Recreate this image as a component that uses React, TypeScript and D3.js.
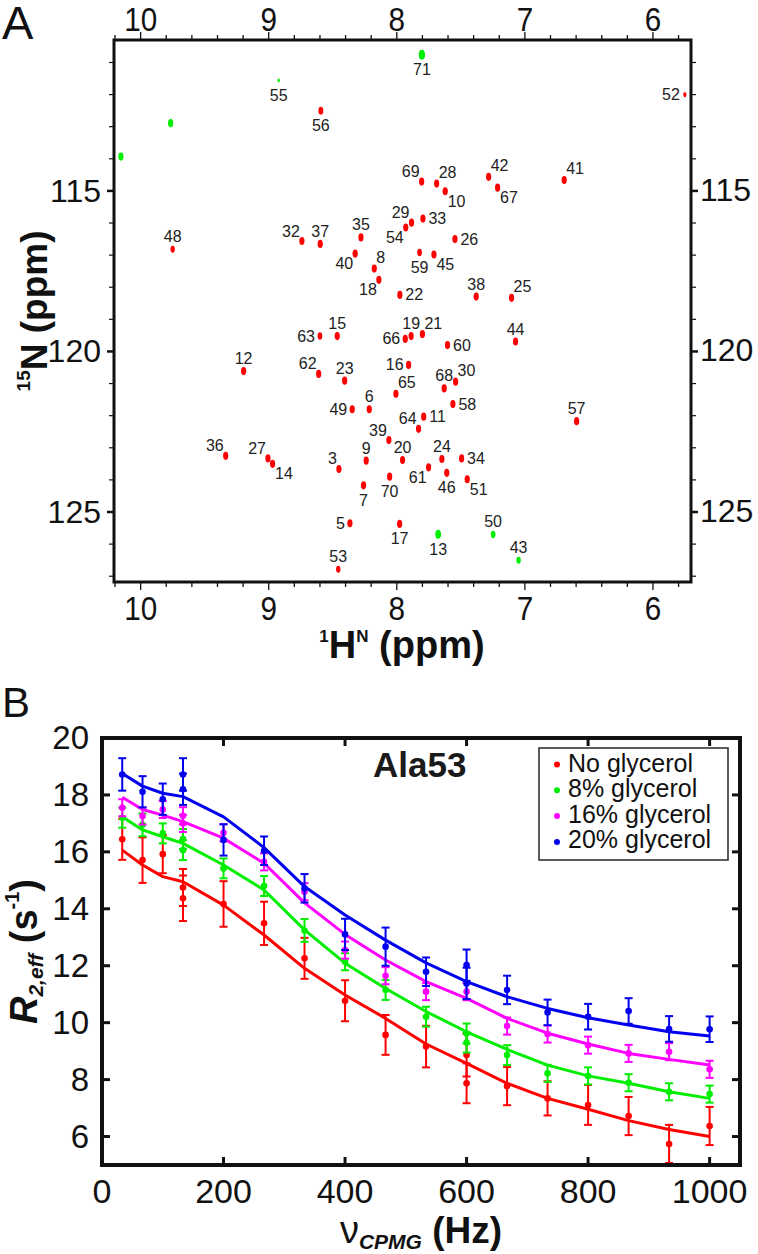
import React from 'react';
import * as d3 from 'd3';

const FONT = "'Liberation Sans', Arial, Helvetica, sans-serif";

// ---------------- Panel A: 1H-15N HSQC peaks ----------------
const peakLabels = ['71','55','52','56','','','69','28','10','42','67','41','48','32','37','35','40','8','18','29','54','33','59','26','45','22','38','25','63','15','66','19','21','60','44','12','62','23','16','65','6','49','64','11','68','30','58','57','39','36','27','14','3','9','20','24','34','61','46','51','7','70','5','17','53','13','50','43'];
const peakH = [7.804,8.922,5.751,8.593,9.766,10.154,7.806,7.689,7.622,7.283,7.213,6.693,9.75,8.741,8.598,8.28,8.325,8.176,8.14,7.885,7.93,7.796,7.822,7.546,7.71,7.976,7.38,7.104,8.60,8.465,7.934,7.888,7.80,7.604,7.073,9.196,8.61,8.407,7.908,8.007,8.215,8.348,7.83,7.79,7.63,7.541,7.562,6.596,8.062,9.336,9.006,8.97,8.452,8.239,7.955,7.648,7.494,7.752,7.61,7.45,8.26,8.056,8.366,7.978,8.457,7.677,7.248,7.049];
const peakN = [110.76,111.56,112.0,112.5,112.89,113.93,114.71,114.77,115.01,114.56,114.9,114.66,116.82,116.56,116.65,116.45,116.95,117.42,117.77,115.99,116.14,115.86,116.92,116.5,116.98,118.24,118.29,118.33,119.52,119.52,119.61,119.52,119.46,119.8,119.69,120.61,120.7,120.91,120.42,121.32,121.8,121.8,122.41,122.03,121.15,120.94,121.64,122.17,122.76,123.25,123.33,123.5,123.66,123.4,123.38,123.35,123.33,123.61,123.78,123.98,124.17,123.9,125.35,125.37,126.78,125.69,125.7,126.5];
const peakState = ['g','g','r','r','g','g','r','r','r','r','r','r','r','r','r','r','r','r','r','r','r','r','r','r','r','r','r','r','r','r','r','r','r','r','r','r','r','r','r','r','r','r','r','r','r','r','r','r','r','r','r','r','r','r','r','r','r','r','r','r','r','r','r','r','r','g','g','g'];
const peakIntensity = [1.2,0.45,0.62,0.95,1,1,1,1,1,1,1,1,0.85,1,1,1,1,1,1,1,1,1,0.9,1,1,1,1,1,0.9,1,1,1,1,1,1,1,1,1,1,1,1,1,1,1,1,1,1,1,1,1,1,1,1,1,1,1,1,1,1,1,1,1,1,1,0.85,1.1,0.9,0.85];
const labelSide = ['S','S','W','S','','','NW','NE','SE','NE','SE','NE','N','NW','N','N','SW','NE','SW','NW','SW','E','S','E','SE','E','N','NE','W','N','W','N','NE','E','N','N','NW','N','W','NE','N','W','NW','E','N','NE','E','N','NW','NW','NW','SE','NW','N','N','N','E','SW','S','SE','S','S','W','S','N','S','N','N'];

const hTickValues = [10, 9, 8, 7, 6];
const nTickValues = [115, 120, 125];

// ---------------- Panel B: CPMG dispersion ----------------
const nuCPMG = [33.3, 66.7, 100, 133.3, 200, 266.7, 333.3, 400, 466.7, 533.3, 600, 666.7, 733.3, 800, 866.7, 933.3, 1000];
const fitRed = [16.06, 15.54, 15.13, 14.95, 14.13, 13.08, 11.91, 10.97, 10.15, 9.25, 8.57, 7.87, 7.34, 6.96, 6.56, 6.25, 6.0];
const fitGreen = [17.23, 16.77, 16.53, 16.3, 15.54, 14.66, 13.26, 12.09, 11.2, 10.39, 9.68, 9.06, 8.51, 8.13, 7.87, 7.57, 7.34];
const fitMagenta = [17.92, 17.49, 17.29, 17.06, 16.48, 15.6, 14.21, 13.1, 12.2, 11.44, 10.85, 10.15, 9.63, 9.25, 8.92, 8.71, 8.51];
const fitBlue = [18.75, 18.31, 18.06, 17.94, 17.23, 16.15, 14.78, 13.78, 12.9, 12.1, 11.44, 10.91, 10.5, 10.17, 9.92, 9.68, 9.53];

const redX = [33.3, 66.7, 100, 133.3, 133.3, 200, 266.7, 333.3, 400, 466.7, 533.3, 600, 600, 666.7, 733.3, 800, 866.7, 933.3, 1000];
const redY = [16.44, 15.71, 15.92, 14.37, 14.75, 14.17, 13.49, 12.26, 10.77, 9.57, 9.16, 8.86, 7.87, 7.77, 7.34, 7.11, 6.72, 5.74, 6.37];
const redErr = [0.72, 0.8, 0.67, 0.8, 0.65, 0.8, 0.76, 0.72, 0.72, 0.7, 0.73, 0.75, 0.7, 0.67, 0.6, 0.7, 0.67, 0.67, 0.67];

const greenX = [33.3, 66.7, 100, 133.3, 133.3, 200, 266.7, 333.3, 400, 466.7, 533.3, 600, 600, 666.7, 733.3, 800, 866.7, 933.3, 1000];
const greenY = [17.2, 16.95, 16.65, 16.45, 16.06, 15.42, 14.8, 13.24, 12.14, 11.15, 10.21, 9.62, 9.3, 8.86, 8.22, 8.13, 7.89, 7.57, 7.49];
const greenErr = [0.35, 0.4, 0.35, 0.35, 0.35, 0.35, 0.35, 0.4, 0.3, 0.35, 0.35, 0.35, 0.35, 0.35, 0.3, 0.3, 0.3, 0.3, 0.3];

const magX = [33.3, 66.7, 100, 133.3, 133.3, 200, 266.7, 333.3, 400, 466.7, 533.3, 600, 666.7, 733.3, 800, 866.7, 933.3, 1000];
const magY = [17.55, 17.26, 17.49, 17.27, 17.0, 16.67, 15.65, 14.6, 12.55, 11.65, 11.09, 11.09, 9.88, 9.6, 9.21, 8.92, 8.98, 8.36];
const magErr = [0.3, 0.3, 0.3, 0.3, 0.3, 0.3, 0.3, 0.3, 0.3, 0.3, 0.3, 0.3, 0.3, 0.3, 0.3, 0.3, 0.3, 0.3];

const blueX = [33.3, 66.7, 100, 133.3, 133.3, 200, 266.7, 333.3, 400, 466.7, 533.3, 600, 600, 666.7, 733.3, 800, 866.7, 933.3, 1000];
const blueY = [18.72, 18.11, 17.85, 18.72, 18.2, 16.42, 16.04, 14.72, 13.1, 12.67, 11.79, 12.02, 11.38, 11.15, 10.36, 10.21, 10.41, 9.78, 9.77];
const blueErr = [0.57, 0.55, 0.55, 0.57, 0.55, 0.55, 0.5, 0.5, 0.55, 0.67, 0.5, 0.55, 0.55, 0.5, 0.45, 0.45, 0.45, 0.45, 0.45];

const seriesNames = ['No glycerol', '8% glycerol', '16% glycerol', '20% glycerol'];
const seriesColors = ['#ff0000', '#00ee00', '#ff00ff', '#0000ee'];

const xTicksB = [0, 200, 400, 600, 800, 1000];
const yTicksB = [6, 8, 10, 12, 14, 16, 18, 20];

const labelOffsets: Record<string, [number, number, string]> = {
  N: [0, -12.5, 'middle'],
  S: [0, 15, 'middle'],
  E: [5.5, 0, 'start'],
  W: [-5, 0, 'end'],
  NE: [2, -11, 'start'],
  NW: [-2, -10, 'end'],
  SE: [2.5, 10, 'start'],
  SW: [-2, 10, 'end'],
};

export default function App() {
  // Panel A geometry
  const aL = 114, aR = 691, aT = 40, aB = 582;
  const xA = d3.scaleLinear().domain([10.208, 5.703]).range([aL, aR]);
  const yA = d3.scaleLinear().domain([110.3, 127.18]).range([aT, aB]);

  const hMinor = d3.range(102, 57, -2).map((v) => v / 10);
  const nMinor = d3.range(111, 128, 1);

  // Panel B geometry
  const bL = 102, bR = 740, bT = 738, bB = 1165;
  const xB = d3.scaleLinear().domain([0, 1050]).range([bL, bR]);
  const yB = d3.scaleLinear().domain([5, 20]).range([bB, bT]);

  const lineGen = d3
    .line<[number, number]>()
    .x((d) => xB(d[0]))
    .y((d) => yB(d[1]))
    .curve(d3.curveLinear);

  const fits = [fitRed, fitGreen, fitMagenta, fitBlue];
  const pts = [
    [redX, redY, redErr],
    [greenX, greenY, greenErr],
    [magX, magY, magErr],
    [blueX, blueY, blueErr],
  ];

  const isMajor = (v: number) => Math.abs(v - Math.round(v)) < 1e-6;

  return (
    <svg
      width={758}
      height={1254}
      style={{ position: 'absolute', left: 0, top: 0, background: '#fff' }}
      fontFamily={FONT}
    >
      <rect x={0} y={0} width={758} height={1254} fill="#fff" />

      {/* ===== Panel A ===== */}
      <text x={2} y={39} fontSize={47} fill="#111">A</text>

      {/* ticks top/bottom */}
      {hMinor.map((v, i) => {
        const x = xA(v);
        const len = isMajor(v) ? 8 : 5;
        return (
          <g key={'ht' + i} stroke="#111" strokeWidth={1.3}>
            <line x1={x} x2={x} y1={aT} y2={aT - len} />
            <line x1={x} x2={x} y1={aB} y2={aB + len} />
          </g>
        );
      })}
      {nMinor.map((v, i) => {
        const y = yA(v);
        const major = v % 5 === 0;
        const len = major ? 7 : 5;
        return (
          <g key={'nt' + i} stroke="#111" strokeWidth={major ? 2.5 : 1.2}>
            <line x1={aL} x2={aL - len} y1={y} y2={y} />
            <line x1={aR} x2={aR + len} y1={y} y2={y} />
          </g>
        );
      })}
      {hTickValues.map((v) => (
        <g key={'hl' + v}>
          <text
            x={xA(v)}
            y={31}
            fontSize={34}
            textAnchor="middle"
            fill="#111"
            textLength={String(v).length * 16.5}
            lengthAdjust="spacingAndGlyphs"
          >
            {v}
          </text>
          <text
            x={xA(v)}
            y={620}
            fontSize={34}
            textAnchor="middle"
            fill="#111"
            textLength={String(v).length * 16.5}
            lengthAdjust="spacingAndGlyphs"
          >
            {v}
          </text>
        </g>
      ))}
      {nTickValues.map((v) => (
        <g key={'nl' + v}>
          <text x={101} y={yA(v) + 11} fontSize={32} textAnchor="end" fill="#111">
            {v}
          </text>
          <text x={700} y={yA(v) + 10} fontSize={32} textAnchor="start" fill="#111">
            {v}
          </text>
        </g>
      ))}

      {/* peaks */}
      {peakH.map((h, i) => {
        const cx = xA(h);
        const cy = yA(peakN[i]);
        const s = peakIntensity[i];
        const color = peakState[i] === 'g' ? '#00ee00' : '#ff0000';
        return <ellipse key={'pk' + i} cx={cx} cy={cy} rx={2.6 * s} ry={4.1 * s} fill={color} />;
      })}
      {peakLabels.map((lab, i) => {
        if (!lab) return null;
        const o = labelOffsets[labelSide[i]];
        return (
          <text
            key={'pl' + i}
            x={xA(peakH[i]) + o[0]}
            y={yA(peakN[i]) + o[1]}
            fontSize={16}
            textAnchor={o[2] as any}
            dominantBaseline="central"
            fill="#222"
          >
            {lab}
          </text>
        );
      })}

      <rect x={aL} y={aT} width={aR - aL} height={aB - aT} fill="none" stroke="#111" strokeWidth={3} />

      {/* axis titles A */}
      <text x={402} y={658} textAnchor="middle" fontWeight="bold" fontSize={38} fill="#111">
        <tspan fontSize={17} dy={-16}>1</tspan>
        <tspan dy={16}>H</tspan>
        <tspan fontSize={17} dy={-16}>N</tspan>
        <tspan dy={16}>{' (ppm)'}</tspan>
      </text>
      <text
        transform={`translate(47,${(aT + aB) / 2}) rotate(-90)`}
        textAnchor="middle"
        fontWeight="bold"
        fontSize={37}
        fill="#111"
      >
        <tspan fontSize={19} dy={-17}>15</tspan>
        <tspan dy={17}>{'N (ppm)'}</tspan>
      </text>

      {/* ===== Panel B ===== */}
      <text x={2} y={717} fontSize={42} fill="#111">B</text>

      {/* series */}
      {pts.map((p, si) => {
        const [xs, ys, es] = p as number[][];
        const color = seriesColors[si];
        const fitData: [number, number][] = nuCPMG.map((x, k) => [x, fits[si][k]]);
        return (
          <g key={'s' + si}>
            {xs.map((x, k) => {
              const px = xB(x);
              const y1 = yB(ys[k] + es[k]);
              const y2 = yB(ys[k] - es[k]);
              return (
                <g key={'e' + k} stroke={color} strokeWidth={2}>
                  <line x1={px} x2={px} y1={y1} y2={y2} />
                  <line x1={px - 4} x2={px + 4} y1={y1} y2={y1} />
                  <line x1={px - 4} x2={px + 4} y1={y2} y2={y2} />
                </g>
              );
            })}
            {xs.map((x, k) => (
              <circle key={'c' + k} cx={xB(x)} cy={yB(ys[k])} r={3.3} fill={color} />
            ))}
            <path d={lineGen(fitData) || ''} fill="none" stroke={color} strokeWidth={3} strokeLinejoin="round" />
          </g>
        );
      })}

      {/* ticks B (inward) */}
      {xTicksB.slice(1).map((v) => (
        <g key={'xbt' + v} stroke="#111" strokeWidth={3}>
          <line x1={xB(v)} x2={xB(v)} y1={bB} y2={bB - 8} />
          <line x1={xB(v)} x2={xB(v)} y1={bT} y2={bT + 8} />
        </g>
      ))}
      {yTicksB.slice(0, -1).map((v) => (
        <g key={'ybt' + v} stroke="#111" strokeWidth={3}>
          <line x1={bL} x2={bL + 8} y1={yB(v)} y2={yB(v)} />
          <line x1={bR} x2={bR - 8} y1={yB(v)} y2={yB(v)} />
        </g>
      ))}
      <rect x={bL} y={bT} width={bR - bL} height={bB - bT} fill="none" stroke="#111" strokeWidth={4} />

      {xTicksB.map((v) => (
        <text key={'xbl' + v} x={xB(v)} y={1203} fontSize={34} textAnchor="middle" fill="#111">
          {v}
        </text>
      ))}
      {yTicksB.map((v) => (
        <text key={'ybl' + v} x={89} y={yB(v) + 11} fontSize={33} textAnchor="end" fill="#111">
          {v}
        </text>
      ))}

      {/* title */}
      <text x={373} y={777} fontWeight="bold" fontSize={35} fill="#1a1a1a">Ala53</text>

      {/* legend */}
      <rect x={539} y={748} width={189} height={112} fill="#fff" stroke="#333" strokeWidth={1.6} />
      {seriesNames.map((name, i) => (
        <g key={'lg' + i}>
          <circle cx={557} cy={764.5 + i * 25.8} r={3} fill={seriesColors[i]} />
          <text x={568} y={771.5 + i * 25.6} fontSize={25} fill="#111">
            {name}
          </text>
        </g>
      ))}

      {/* axis titles B */}
      <text x={421} y={1243} textAnchor="middle" fontSize={38} fill="#111">
        <tspan>ν</tspan>
        <tspan fontSize={21} fontWeight="bold" fontStyle="italic" dy={6}>CPMG</tspan>
        <tspan dy={-6} fontWeight="bold" fontSize={37}>{' (Hz)'}</tspan>
      </text>
      <text
        transform={`translate(37,${(bT + bB) / 2}) rotate(-90)`}
        textAnchor="middle"
        fontWeight="bold"
        fontSize={38}
        fill="#111"
      >
        <tspan fontStyle="italic">R</tspan>
        <tspan fontStyle="italic" fontSize={21} dy={6}>2,eff</tspan>
        <tspan dy={-6}>{' (s'}</tspan>
        <tspan fontSize={20} dy={-18}>-1</tspan>
        <tspan dy={18}>)</tspan>
      </text>
    </svg>
  );
}
